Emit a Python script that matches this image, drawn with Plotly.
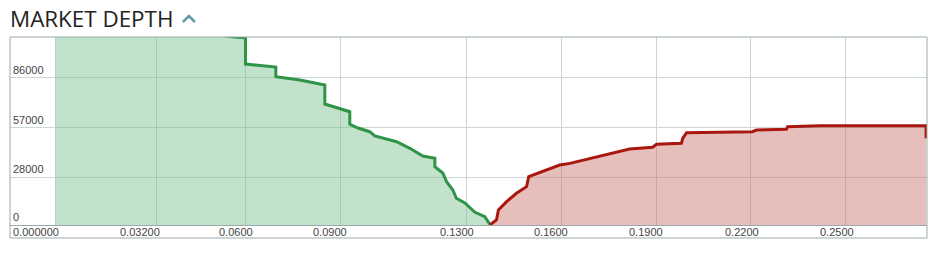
import plotly.graph_objects as go

# ---- data ----
bid_price = [0.0, 0.0564, 0.0601, 0.0601, 0.0697, 0.0697, 0.0773, 0.0852, 0.0852, 0.0931, 0.0931,
             0.0957, 0.0994, 0.1010, 0.1079, 0.1121, 0.1162, 0.1200, 0.1200, 0.1225, 0.1237,
             0.1257, 0.1268, 0.1295, 0.1326, 0.1358, 0.1374]
bid_depth = [125000, 109800, 109300, 94000, 92270, 86600, 84680, 81760, 70660, 66170, 58810,
             56650, 54490, 51980, 48650, 44790, 40300, 38950, 34050, 30370, 25290,
             20440, 15590, 12850, 7590, 4850, 410]

ask_price = [0.1374, 0.1395, 0.1401, 0.1427, 0.1458, 0.1490, 0.1497, 0.1532, 0.1560, 0.1595,
             0.1627, 0.1658, 0.1690, 0.1721, 0.1750, 0.1784, 0.1816, 0.1889, 0.1901, 0.1980,
             0.1984, 0.1996, 0.2205, 0.2217, 0.2312, 0.2316, 0.2417, 0.2754, 0.2754]
ask_depth = [0, 2920, 8760, 13610, 18510, 22370, 28210, 30540, 32700, 35040,
             36000, 37380, 38900, 40300, 41800, 43220, 44380, 45380, 47130, 47710,
             50630, 53900, 54490, 55480, 55890, 57410, 57990, 57990, 50630]

x_ticks = [0.0, 0.032, 0.06, 0.09, 0.13, 0.16, 0.19, 0.22, 0.25]
x_tick_labels = ["0.000000", "0.03200", "0.0600", "0.0900", "0.1300", "0.1600", "0.1900", "0.2200", "0.2500"]
y_ticks = [0, 28000, 57000, 86000]
y_tick_labels = ["0", "28000", "57000", "86000"]

# label pixel offsets (style only)
x_label_shift = [-19, -17, -9, -10, -9, -10, -10, -9, -9]

fig = go.Figure()
fig.add_trace(go.Scatter(
    x=bid_price, y=bid_depth, mode="lines", fill="tozeroy",
    line=dict(color="#2e9447", width=3), fillcolor="rgba(120,190,140,0.45)",
    hoverinfo="x+y", showlegend=False))
fig.add_trace(go.Scatter(
    x=ask_price, y=ask_depth, mode="lines", fill="tozeroy",
    line=dict(color="#a8180f", width=3), fillcolor="rgba(200,110,105,0.45)",
    hoverinfo="x+y", showlegend=False))

axis_col = "#9aa9a9"
grid_col = "#ccd6d6"
label_col = "#444"

annotations = [
    dict(text="MARKET DEPTH", xref="paper", yref="paper", x=-0.002, y=1.101,
         xanchor="left", yanchor="middle", showarrow=False,
         font=dict(family="Open Sans", size=22.4, color="#222")),
]
for v, t, s in zip(x_ticks, x_tick_labels, x_label_shift):
    annotations.append(dict(text=t, xref="x", yref="paper", x=v, y=-0.0375, xshift=s,
                            xanchor="center", yanchor="middle", showarrow=False,
                            font=dict(family="Liberation Sans, Arial", size=11, color=label_col)))

# chevron icon next to the title (decoration), in paper coordinates
def px2paper(px, py):
    return (px - 10) / 917.5, (225 - py) / 188

c = [px2paper(183, 22), px2paper(189, 16), px2paper(195, 22)]
chevron_path = "M {} {} L {} {} L {} {}".format(c[0][0], c[0][1], c[1][0], c[1][1], c[2][0], c[2][1])

fig.update_layout(
    width=939, height=254,
    margin=dict(l=10, r=11.5, t=37, b=29),
    paper_bgcolor="white", plot_bgcolor="white",
    font=dict(family="Liberation Sans, Arial", size=11, color=label_col),
    xaxis=dict(range=[-0.01439, 0.27568], tickvals=x_ticks, showticklabels=False,
               showgrid=True, gridcolor=grid_col, gridwidth=1, zeroline=False,
               showline=True, linecolor=axis_col, linewidth=1, ticks=""),
    yaxis=dict(range=[0, 109800], tickvals=y_ticks, ticktext=y_tick_labels,
               showgrid=True, gridcolor=grid_col, gridwidth=1, zeroline=False,
               showline=False, ticks="", ticklabelposition="inside top",
               tickfont=dict(color=label_col, size=11)),
    shapes=[
        dict(type="rect", xref="paper", yref="paper", x0=0, x1=1, y0=-0.0691, y1=1,
             line=dict(color=axis_col, width=1), fillcolor="rgba(0,0,0,0)", layer="above"),
        dict(type="path", xref="paper", yref="paper", path=chevron_path,
             line=dict(color="#5f9ba6", width=2.5)),
    ],
    annotations=annotations,
)

fig.write_html("out.html")
